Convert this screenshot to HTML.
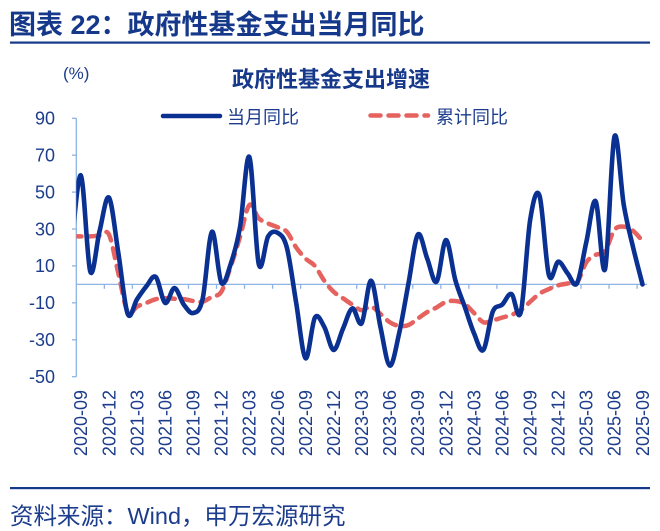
<!DOCTYPE html>
<html>
<head>
<meta charset="utf-8">
<style>
html,body{margin:0;padding:0;background:#fff;}
body{width:660px;height:531px;overflow:hidden;}
svg{display:block;}
text{font-family:"Liberation Sans","Noto Sans CJK SC",sans-serif;}
</style>
</head>
<body>
<svg id="chart" width="660" height="531" viewBox="0 0 660 531" xmlns="http://www.w3.org/2000/svg">
  <rect width="660" height="531" fill="#fff"/>
  <!-- Header -->
  <text x="9" y="34" font-size="27" font-weight="700" fill="#15388a">图表 22：政府性基金支出当月同比</text>
  <rect x="10" y="41.5" width="640" height="2.2" fill="#15388a"/>

  <!-- unit + chart title -->
  <text x="63" y="79" font-size="17" fill="#1c3c8c">(%)</text>
  <text x="331" y="87" font-size="22" font-weight="700" fill="#15388a" text-anchor="middle">政府性基金支出增速</text>

  <!-- Legend -->
  <line x1="163" y1="116" x2="220" y2="116" stroke="#0a3191" stroke-width="4.5" stroke-linecap="round"/>
  <text x="227" y="123.5" font-size="18" fill="#1c3c8c">当月同比</text>
  <line x1="370.5" y1="115.5" x2="428" y2="115.5" stroke="#e5625e" stroke-width="4.5" stroke-linecap="round" stroke-dasharray="10 8"/>
  <text x="436" y="123.5" font-size="18" fill="#1c3c8c">累计同比</text>

  <!-- Y axis -->
  <g stroke="#8eb4e3" stroke-width="1.3" fill="none">
    <line x1="76.3" y1="118.3" x2="76.3" y2="376.7"/>
    <line x1="72" y1="118.3" x2="76.3" y2="118.3"/>
    <line x1="72" y1="155.2" x2="76.3" y2="155.2"/>
    <line x1="72" y1="192.1" x2="76.3" y2="192.1"/>
    <line x1="72" y1="229" x2="76.3" y2="229"/>
    <line x1="72" y1="265.9" x2="76.3" y2="265.9"/>
    <line x1="72" y1="302.8" x2="76.3" y2="302.8"/>
    <line x1="72" y1="339.8" x2="76.3" y2="339.8"/>
    <line x1="72" y1="376.7" x2="76.3" y2="376.7"/>
    <!-- zero line -->
    <line x1="76.3" y1="284.4" x2="647.1" y2="284.4"/>
  </g>
  <g id="xticks" stroke="#8eb4e3" stroke-width="1.3"></g>

  <g font-size="18" fill="#1c3c8c" text-anchor="end">
    <text x="55" y="124.6">90</text>
    <text x="55" y="161.5">70</text>
    <text x="55" y="198.4">50</text>
    <text x="55" y="235.3">30</text>
    <text x="55" y="272.2">10</text>
    <text x="55" y="309.1">-10</text>
    <text x="55" y="346.1">-30</text>
    <text x="55" y="383">-50</text>
  </g>

  <g id="xlabels" font-size="18" fill="#1c3c8c" text-anchor="end"></g>

  <defs>
    <clipPath id="plotclip"><rect x="76.3" y="100" width="572" height="300"/></clipPath>
  </defs>
  <g clip-path="url(#plotclip)" id="series">
    <g id="fallback" transform="matrix(9.36 0 0 -1.846 80.9 284.4)">
      <polyline vector-effect="non-scaling-stroke" fill="none" stroke="#e5625e" stroke-width="4.5" points="-1,26 0,26 1,26 2,26.5 3,27 4,6 5,-15 6,-12 7,-10 8,-8 9,-7.5 10,-7.8 11,-8 12,-9 13,-9.4 14,-6.7 15,-4 16,9.6 17,25.8 18,43 19,35.8 20,33 21,31 22,28.5 23,20 24,14 25,10 26,2 27,-4 28,-7.5 29,-11 30,-14 31,-12 32,-16 33,-20.5 34,-22.5 35,-22 36,-18.5 37,-15 38,-12.5 39,-9.5 40,-9 41,-10.6 42,-15.5 43,-20.5 44,-19.5 45,-18 46,-16.5 47,-14 48,-9.4 49,-5 50,-2.5 51,-0.5 52,0.5 53,1 54,12 55,16 56,18 57,29.5 58,31.3 59,29 60,23.5"/>
      <polyline vector-effect="non-scaling-stroke" fill="none" stroke="#0a3191" stroke-width="4.5" points="-1,20 0,59 1,7 2,29 3,47 4,17 5,-16 6,-8 7,-1 8,4 9,-10 10,-2 11,-11 12,-15.5 13,-8 14,28.5 15,1 16,11 17,31 18,69 19,11 20,26 21,28 22,20 23,-10 24,-40 25,-18 26,-23 27,-35.5 28,-24 29,-13 30,-21 31,2 32,-23 33,-44 34,-26.5 35,0.6 36,27 37,14 38,1.5 39,24 40,2.4 41,-12 42,-26.5 43,-35.5 44,-14.8 45,-11 46,-5.2 47,-15 48,35 49,48 50,5 51,12.3 52,6 53,0.6 54,23 55,45 56,8.3 57,80 58,43 59,20 60,0"/>
    </g>
  </g>

  <!-- Footer -->
  <rect x="10" y="487" width="640" height="2.2" fill="#15388a"/>
  <text x="10" y="524" font-size="23.5" fill="#1c3c8c">资料来源：Wind，申万宏源研究</text>
</svg>
<script>
(function(){
  var NS="http://www.w3.org/2000/svg";
  var X0=80.9, DX=9.36, Y0=284.4, SY=1.846;
  var blue=[20,59,7,29,47,17,-16,-8,-1,4,-10,-2,-11,-15.5,-8,28.5,1,11,31,69,11,26,28,20,-10,-40,-18,-23,-35.5,-24,-13,-21,2,-23,-44,-26.5,0.6,27,14,1.5,24,2.4,-12,-26.5,-35.5,-14.8,-11,-5.2,-15,35,48,5,12.3,6,0.6,23,45,8.3,80,43,20,0];
  var red=[26,26,26,26.5,27,6,-15,-12,-10,-8,-7.5,-7.8,-8,-9,-9.4,-6.7,-4,9.6,25.8,43,35.8,33,31,28.5,20,14,10,2,-4,-7.5,-11,-14,-12,-16,-20.5,-22.5,-22,-18.5,-15,-12.5,-9.5,-9,-10.6,-15.5,-20.5,-19.5,-18,-16.5,-14,-9.4,-5,-2.5,-0.5,0.5,1,12,16,18,29.5,31.3,29,23.5];
  function pts(v){return v.map(function(val,i){return [X0+DX*(i-1), Y0-SY*val];});}
  function f(n){return n.toFixed(2);}
  function smooth(p){
    var d="M"+f(p[0][0])+","+f(p[0][1]);
    for(var i=0;i<p.length-1;i++){
      var p0=p[i-1]||p[i], p1=p[i], p2=p[i+1], p3=p[i+2]||p[i+1];
      var c1=[p1[0]+(p2[0]-p0[0])/6, p1[1]+(p2[1]-p0[1])/6];
      var c2=[p2[0]-(p3[0]-p1[0])/6, p2[1]-(p3[1]-p1[1])/6];
      d+="C"+f(c1[0])+","+f(c1[1])+" "+f(c2[0])+","+f(c2[1])+" "+f(p2[0])+","+f(p2[1]);
    }
    return d;
  }
  var g=document.getElementById("series");
  var fb=document.getElementById("fallback");
  if(fb) fb.parentNode.removeChild(fb);
  var pr=document.createElementNS(NS,"path");
  pr.setAttribute("d",smooth(pts(red)));
  pr.setAttribute("fill","none");pr.setAttribute("stroke","#e5625e");
  pr.setAttribute("stroke-width","4.5");pr.setAttribute("stroke-linecap","round");
  pr.setAttribute("stroke-dasharray","10 8");
  g.appendChild(pr);
  var pb=document.createElementNS(NS,"path");
  pb.setAttribute("d",smooth(pts(blue)));
  pb.setAttribute("fill","none");pb.setAttribute("stroke","#0a3191");
  pb.setAttribute("stroke-width","4.6");pb.setAttribute("stroke-linejoin","round");pb.setAttribute("stroke-linecap","round");
  g.appendChild(pb);

  // x ticks
  var xt=document.getElementById("xticks");
  for(var k=1;k<=20;k++){
    var x=76.3+28.04*k;
    var l=document.createElementNS(NS,"line");
    l.setAttribute("x1",x);l.setAttribute("x2",x);
    l.setAttribute("y1",284.4);l.setAttribute("y2",288.8);
    xt.appendChild(l);
  }
  // x labels
  var labels=["2020-09","2020-12","2021-03","2021-06","2021-09","2021-12","2022-03","2022-06","2022-09","2022-12","2023-03","2023-06","2023-09","2023-12","2024-03","2024-06","2024-09","2024-12","2025-03","2025-06","2025-09"];
  var xl=document.getElementById("xlabels");
  for(var j=0;j<labels.length;j++){
    var xc=X0+DX*3*j;
    var t=document.createElementNS(NS,"text");
    t.setAttribute("transform","translate("+f(xc)+",390) rotate(-90)");
    t.setAttribute("dy","0.35em");
    t.textContent=labels[j];
    xl.appendChild(t);
  }
})();
</script>
</body>
</html>
